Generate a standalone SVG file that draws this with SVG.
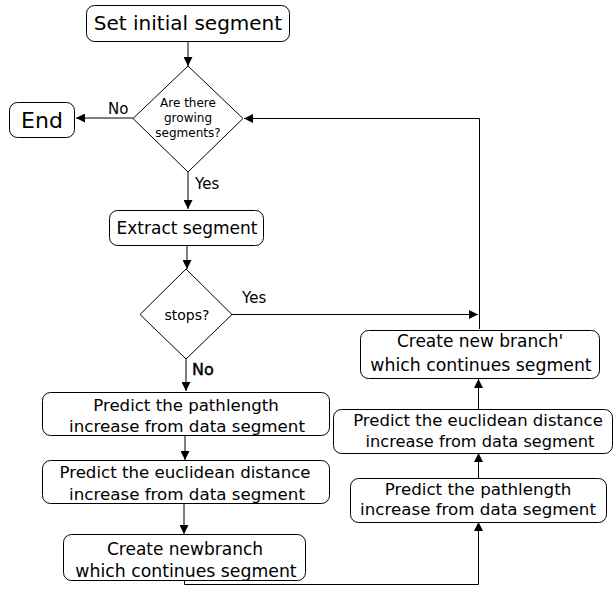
<svg xmlns="http://www.w3.org/2000/svg" width="613" height="589" viewBox="0 0 613 589">
  <defs>
    <marker id="arr" viewBox="0 0 10 10" refX="10" refY="5" markerWidth="9" markerHeight="9" markerUnits="userSpaceOnUse" orient="auto">
      <path d="M0,0 L10,5 L0,10 Z" fill="#000"/>
    </marker>
    <style>
      .box { fill: #fff; stroke: #000; stroke-width: 1; }
      .dia { fill: #fff; stroke: #000; stroke-width: 1; }
      .t { font-family: "DejaVu Sans", "Liberation Sans", sans-serif; fill: #000; text-anchor: middle; }
      .lbl { font-family: "DejaVu Sans", "Liberation Sans", sans-serif; fill: #000; font-size: 15px; }
      .con { fill: none; stroke: #000; stroke-width: 1; }
      .arrow { marker-end: url(#arr); }
    </style>
  </defs>
  <rect width="613" height="589" fill="#fff"/>

  <g id="connectors">
    <line class="con arrow" x1="188" y1="41" x2="188" y2="66"/>
    <line class="con arrow" x1="133" y1="118" x2="76" y2="118"/>
    <polyline class="con arrow" points="479.5,329 479.5,118.5 244,118.5"/>
    <line class="con arrow" x1="188" y1="172" x2="188" y2="209"/>
    <line class="con arrow" x1="187" y1="245" x2="187" y2="269"/>
    <line class="con arrow" x1="232" y1="314.5" x2="478" y2="314.5"/>
    <line class="con arrow" x1="186" y1="359" x2="186" y2="391"/>
    <line class="con arrow" x1="185" y1="435" x2="185" y2="460"/>
    <line class="con arrow" x1="184" y1="503" x2="184" y2="534"/>
    <polyline class="con arrow" points="184.5,580 184.5,584.5 478.5,584.5 478.5,522"/>
    <line class="con arrow" x1="478.5" y1="478" x2="478.5" y2="453"/>
    <line class="con arrow" x1="478.5" y1="409" x2="478.5" y2="379"/>
    <text class="lbl" x="108" y="114">No</text>
    <text class="lbl" x="195" y="189">Yes</text>
    <text class="lbl" x="242" y="303">Yes</text>
    <text class="lbl" x="192" y="375" style="font-size:16px;stroke:#000;stroke-width:0.45">No</text>
  </g>

  <g id="set-initial">
    <rect class="box" x="86.5" y="5.5" width="203" height="36" rx="8"/>
    <text class="t" x="188" y="30" font-size="20">Set initial segment</text>
  </g>

  <g id="growing">
    <polygon class="dia" points="188,66 243,118.5 188,172 133,118.5"/>
    <text class="t" x="188" y="107" font-size="12">Are there</text>
    <text class="t" x="188" y="122" font-size="12">growing</text>
    <text class="t" x="188" y="137" font-size="12">segments?</text>
  </g>

  <g id="end">
    <rect class="box" x="9.5" y="102.5" width="65" height="35" rx="8"/>
    <text class="t" x="42" y="128" font-size="22">End</text>
  </g>

  <g id="extract">
    <rect class="box" x="109.5" y="210.5" width="154" height="35" rx="8"/>
    <text class="t" x="187" y="234" font-size="17">Extract segment</text>
  </g>

  <g id="stops">
    <polygon class="dia" points="186,269 232,314.5 186,359 140,314.5"/>
    <text class="t" x="187" y="320" font-size="14">stops?</text>
  </g>

  <g id="pathlength-left">
    <rect class="box" x="42.5" y="392.5" width="287" height="43" rx="8"/>
    <text class="t" x="186" y="411" font-size="16.6">Predict the pathlength</text>
    <text class="t" x="187" y="432" font-size="16.7" fill="#222">increase from data segment</text>
  </g>

  <g id="euclidean-left">
    <rect class="box" x="42.5" y="460.5" width="287" height="43" rx="8"/>
    <text class="t" x="185" y="478" font-size="16.6">Predict the euclidean distance</text>
    <text class="t" x="187" y="500" font-size="16.7" fill="#222">increase from data segment</text>
  </g>

  <g id="newbranch-left">
    <rect class="box" x="63.5" y="534.5" width="242" height="46" rx="8"/>
    <text class="t" x="185" y="555" font-size="17">Create newbranch</text>
    <text class="t" x="186" y="577" font-size="17.3">which continues segment</text>
  </g>

  <g id="pathlength-right">
    <rect class="box" x="350.5" y="478.5" width="256" height="44" rx="8"/>
    <text class="t" x="478" y="495" font-size="16.7">Predict the pathlength</text>
    <text class="t" x="478" y="515" font-size="16.7">increase from data segment</text>
  </g>

  <g id="euclidean-right">
    <rect class="box" x="333.5" y="409.5" width="279" height="44" rx="8"/>
    <text class="t" x="478" y="426" font-size="16.5">Predict the euclidean distance</text>
    <text class="t" x="480" y="447" font-size="16.2" fill="#222">increase from data segment</text>
  </g>

  <g id="newbranch-right">
    <rect class="box" x="360.5" y="330.5" width="239" height="48" rx="8"/>
    <text class="t" x="480" y="347" font-size="17">Create new branch'</text>
    <text class="t" x="481" y="371" font-size="17.3" fill="#222">which continues segment</text>
  </g>
</svg>
